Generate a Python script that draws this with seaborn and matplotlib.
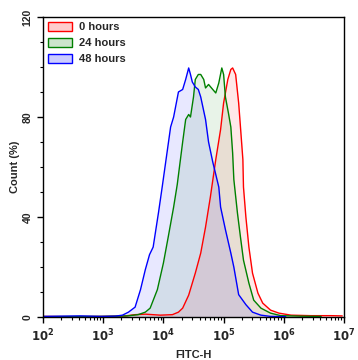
import numpy as np
import pandas as pd
import matplotlib
matplotlib.use("Agg")
import matplotlib.pyplot as plt
import seaborn as sns
from matplotlib.patches import Patch
from matplotlib.ticker import FixedLocator, NullFormatter

# histogram outlines: log10(FITC-H) and count (%)
blue_logx = [2.0, 2.62, 2.95, 3.2, 3.32, 3.42, 3.53, 3.62, 3.70, 3.77, 3.83, 3.92, 3.98,
             4.05, 4.12, 4.17, 4.25, 4.32, 4.37, 4.42, 4.45, 4.48, 4.53, 4.58, 4.62, 4.70,
             4.75, 4.82, 4.87, 4.92, 4.95, 5.03, 5.12, 5.17, 5.25, 5.37, 5.48, 5.62, 5.78, 6.03]
blue_count = [0.3, 0.5, 0.3, 0.4, 0.8, 2, 4, 11, 19, 25, 28, 42, 52,
              64, 76, 80, 90, 91, 95, 99.6, 97, 94, 92, 91, 88, 79,
              70, 62, 57, 52, 44, 35, 25.6, 20, 9, 5, 2, 0.8, 0.3, 0.2]

green_logx = [2.0, 3.0, 3.4, 3.58, 3.70, 3.78, 3.90, 4.0, 4.08, 4.17, 4.23, 4.32, 4.37,
              4.42, 4.45, 4.50, 4.53, 4.58, 4.62, 4.67, 4.70, 4.75, 4.82, 4.87, 4.92, 4.97,
              5.0, 5.03, 5.08, 5.12, 5.15, 5.17, 5.23, 5.28, 5.33, 5.42, 5.50, 5.62, 5.78,
              5.95, 6.28, 6.62]
green_count = [0.2, 0.3, 0.5, 1, 2, 3.6, 11, 21.6, 32, 44, 53, 70, 79,
               81, 80, 88, 95, 97, 97, 95, 91.6, 93, 91, 89.6, 93.6, 99.6,
               97, 88, 81.6, 76, 65.6, 55, 41.6, 32, 22.8, 13.6, 6.8, 3.6, 1.6,
               0.6, 0.4, 0.3]

red_logx = [2.0, 2.5, 3.0, 3.37, 3.53, 3.70, 3.95, 4.15, 4.25, 4.32, 4.42, 4.53, 4.62,
            4.70, 4.78, 4.87, 4.95, 5.0, 5.07, 5.12, 5.15, 5.2, 5.25, 5.28, 5.32, 5.33,
            5.37, 5.42, 5.48, 5.57, 5.65, 5.78, 5.92, 6.12, 6.45, 6.78, 6.97]
red_count = [0.3, 0.2, 0.3, 0.5, 1, 1.2, 0.8, 1, 2, 3.6, 8.8, 17.6, 25.6,
             36, 48, 63, 75, 85.6, 95, 99, 99.6, 97, 85.6, 76, 63, 52,
             40, 28, 17.6, 9.6, 5.6, 2.8, 1.6, 0.8, 0.6, 0.6, 0.5]

groups = ["0 hours", "24 hours", "48 hours"]
colors = ["#ff0000", "#008000", "#0000ff"]

frames = []
for name, lx, cnt in [("0 hours", red_logx, red_count),
                      ("24 hours", green_logx, green_count),
                      ("48 hours", blue_logx, blue_count)]:
    frames.append(pd.DataFrame({"FITC-H": 10 ** np.array(lx), "Count": cnt, "group": name}))
df = pd.concat(frames, ignore_index=True)

sns.set_style("ticks")
plt.rcParams["font.family"] = ["Liberation Sans", "DejaVu Sans"]

fig = plt.figure(figsize=(3.58, 3.6), dpi=100)
ax = fig.add_axes([0.120, 0.119, 0.841, 0.834])

# fills first, drawn back to front
for name, col in zip(groups, colors):
    sub = df[df["group"] == name]
    ax.fill_between(sub["FITC-H"], 0, sub["Count"], color=col, alpha=0.09, lw=0)

sns.lineplot(data=df, x="FITC-H", y="Count", hue="group", hue_order=groups,
             palette=colors, linewidth=1.0, ax=ax, legend=False, sort=False)

ax.set_xscale("log")
ax.set_xlim(1e2, 1e7)
ax.set_ylim(0, 120)

ax.set_xticks([10 ** k for k in range(2, 8)])
ax.set_xticklabels([r"$\mathbf{10^{%d}}$" % k for k in range(2, 8)], fontsize=8.5)
minors = [m * 10 ** k for k in range(2, 7) for m in range(2, 10)]
ax.xaxis.set_minor_locator(FixedLocator(minors))
ax.xaxis.set_minor_formatter(NullFormatter())

ax.set_yticks([0, 40, 80, 120])
ax.set_yticklabels(["0", "40", "80", "120"], rotation=90, va="center",
                   fontsize=7.5, fontweight="bold")
ax.yaxis.set_minor_locator(FixedLocator([10, 20, 30, 50, 60, 70, 90, 100, 110]))

ax.tick_params(axis="both", which="major", direction="out", length=4, width=1, color="black")
ax.tick_params(axis="both", which="minor", direction="out", length=2.5, width=0.8, color="black")
for sp in ax.spines.values():
    sp.set_color("black")
    sp.set_linewidth(1.0)

ax.set_xlabel("FITC-H", fontsize=8, fontweight="bold", labelpad=4)
ax.set_ylabel("Count (%)", fontsize=8, fontweight="bold", labelpad=2)

handles = [Patch(facecolor=matplotlib.colors.to_rgba(c, 0.2), edgecolor=c, linewidth=1)
           for c in colors]
ax.legend(handles, groups, loc="upper left", frameon=False, handlelength=2.2,
          handleheight=0.9, prop={"weight": "bold", "size": 8}, borderaxespad=0.05,
          labelspacing=0.5, handletextpad=0.6)

fig.savefig("out.png", dpi=100)
